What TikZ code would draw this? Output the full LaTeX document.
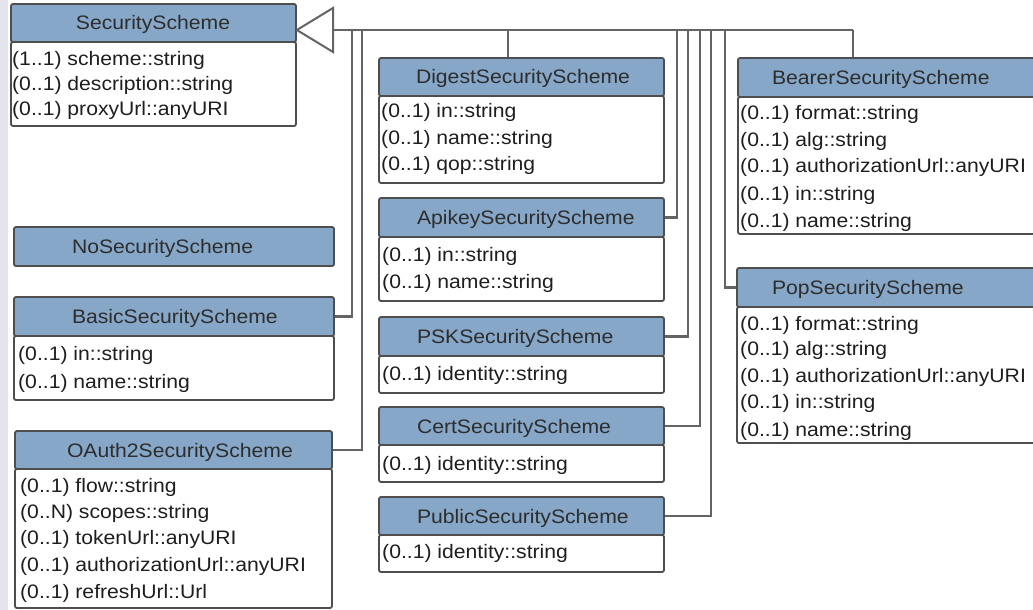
\documentclass[tikz,border=0pt]{standalone}
\usepackage{fontspec}
\setmainfont{Liberation Sans}[FakeStretch=1.085]
\definecolor{hdrc}{RGB}{134,167,199}
\definecolor{bordc}{RGB}{78,78,78}
\definecolor{connc}{RGB}{100,100,100}
\definecolor{hdrtext}{RGB}{45,45,45}
\definecolor{bodytext}{RGB}{30,30,30}
\definecolor{stripc}{RGB}{228,228,238}
\newcommand\uifont{\fontsize{19.5}{23}\selectfont}
% #1 name, #2 x1, #3 x2, #4 ytop, #5 yhdr, #6 ybot, #7 pad, #8 title
\newcommand\clsbox[8]{%
  \pgfmathsetmacro\bw{#3-#2}%
  \pgfmathsetmacro\bh{#6-#5}%
  \pgfmathsetmacro\hh{#5-#4}%
  \node[bodybox, minimum width=\bw pt, minimum height=\bh pt] (#1-body) at ({(#2+#3)/2},{(#5+#6)/2}) {};
  \node[hdr, text width=\bw pt, minimum height=\hh pt] (#1) at ({(#2+#3)/2},{(#4+#5)/2}) {\hspace*{#7pt}#8};
}
% #1 name, #2 x, #3 list of baseline/text
\newcommand\attrs[3]{%
  \foreach \yy/\atext [count=\i] in {#3} {\node[attr] (#1-a\i) at (#2,\yy) {\atext};}
}
\begin{document}
\begin{tikzpicture}[x=1pt,y=-1pt,
  hdr/.style={draw=bordc, fill=hdrc, line width=1.8pt, rounded corners=2pt, inner sep=0pt,
    align=left, text=hdrtext, text height=16pt, text depth=2pt, font=\uifont},
  bodybox/.style={draw=bordc, fill=white, line width=1.8pt, rounded corners=2pt, inner sep=0pt},
  attr/.style={anchor=base west, inner sep=0pt, text=bodytext, font=\uifont},
  conn/.style={draw=connc, line width=2.2pt},
  gen/.style={draw=connc, fill=white, line width=2pt, line join=miter}]
\clip (0,0) rectangle (1033,610);
\fill[white] (0,0) rectangle (1033,610);
\fill[stripc] (0,0) rectangle (8,610);

% classes
\clsbox{ss}{11}{296}{4}{42}{126}{65}{SecurityScheme}
\attrs{ss}{12}{66/{(1..1) scheme::string}, 90/{(0..1) description::string}, 115/{(0..1) proxyUrl::anyURI}}

\node[hdr, text width=320pt, minimum height=39pt] (nss) at (174,246.5) {\hspace*{58pt}NoSecurityScheme};

\clsbox{basic}{14}{334}{297}{336}{400}{58}{BasicSecurityScheme}
\attrs{basic}{18}{360/{(0..1) in::string}, 388/{(0..1) name::string}}

\clsbox{oauth}{15}{332}{431}{469}{608}{52}{OAuth2SecurityScheme}
\attrs{oauth}{20}{492/{(0..1) flow::string}, 518/{(0..N) scopes::string}, 544/{(0..1) tokenUrl::anyURI}, 571/{(0..1) authorizationUrl::anyURI}, 598/{(0..1) refreshUrl::Url}}

\clsbox{digest}{379}{664}{58}{96}{183}{37}{DigestSecurityScheme}
\attrs{digest}{381}{117.5/{(0..1) in::string}, 144/{(0..1) name::string}, 170.5/{(0..1) qop::string}}

\clsbox{apikey}{379}{664}{198}{237}{301}{38}{ApikeySecurityScheme}
\attrs{apikey}{382}{261/{(0..1) in::string}, 288/{(0..1) name::string}}

\clsbox{psk}{379}{664}{317}{356}{393}{38}{PSKSecurityScheme}
\attrs{psk}{382}{380/{(0..1) identity::string}}

\clsbox{cert}{379}{664}{407}{445}{482}{38}{CertSecurityScheme}
\attrs{cert}{382}{470/{(0..1) identity::string}}

\clsbox{public}{379}{664}{497}{535}{572}{38}{PublicSecurityScheme}
\attrs{public}{382}{558/{(0..1) identity::string}}

\clsbox{bearer}{738}{1060}{58}{97}{234}{34}{BearerSecurityScheme}
\attrs{bearer}{740}{119/{(0..1) format::string}, 146/{(0..1) alg::string}, 172/{(0..1) authorizationUrl::anyURI}, 200/{(0..1) in::string}, 227/{(0..1) name::string}}

\clsbox{pop}{737}{1060}{268}{307}{443}{35}{PopSecurityScheme}
\attrs{pop}{740}{330/{(0..1) format::string}, 355/{(0..1) alg::string}, 382/{(0..1) authorizationUrl::anyURI}, 408/{(0..1) in::string}, 436/{(0..1) name::string}}

% generalization
\coordinate (tribase) at (333,30);
\coordinate (bus) at (853,30);
\draw[conn] (tribase) -- (bus);
\draw[conn] (basic.east) -| (352,30);
\draw[conn] (oauth.east) -| (362,30);
\draw[conn] (digest.north -| 508,0) -- (508,30);
\draw[conn] (apikey.east) -| (677,30);
\draw[conn] (psk.east) -| (688,30);
\draw[conn] (cert.east) -| (700,30);
\draw[conn] (public.east) -| (711,30);
\draw[conn] (pop.west) -| (725,30);
\draw[conn] (bearer.north -| bus) -- (bus);
\draw[gen] (ss.east |- tribase) -- (333,8) -- (333,52) -- cycle;
\end{tikzpicture}
\end{document}
